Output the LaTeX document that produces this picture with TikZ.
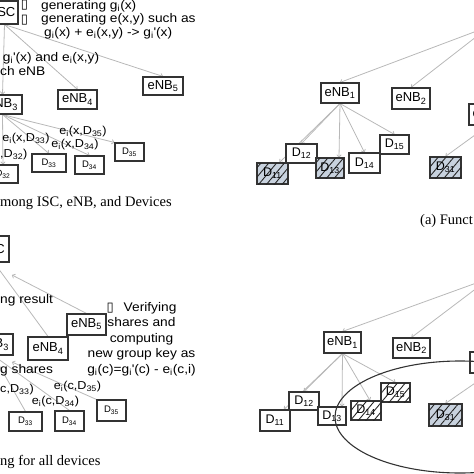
\documentclass[tikz,border=0pt]{standalone}
\usepackage{fontspec}
\setmainfont{Liberation Serif}
\newfontfamily\dsans[FakeStretch=1.1]{Liberation Sans}
\newfontfamily\nsans{Liberation Sans}
\newfontfamily\dvu{DejaVu Sans}
\usetikzlibrary{arrows.meta,patterns.meta}
\pgfdeclarelayer{bg}
\pgfsetlayers{bg,main}
\definecolor{boxc}{HTML}{333333}
\definecolor{linec}{HTML}{B8B8B8}
\definecolor{hatchbg}{HTML}{C8D2DE}
\newcommand\sbs[1]{\textsubscript{#1}}
\newcommand\gpr{\textquotesingle}
\begin{document}
\begin{tikzpicture}[x=1pt,y=-1pt,
 bx/.style={draw=boxc,line width=1.1pt,fill=white,inner sep=0pt,font=\nsans\fontsize{13}{15}\selectfont},
 dbig/.style={bx,font=\nsans\fontsize{12.5}{14}\selectfont},
 dsmall/.style={bx,font=\nsans\fontsize{9.5}{11}\selectfont},
 hatchw/.style={postaction={pattern={Lines[angle=50,distance=6pt,line width=0.9pt]},pattern color=black!85}},
 hatchb/.style={fill=hatchbg,hatchw},
 conn/.style={draw=linec,line width=0.8pt,-{To[length=3pt,width=5pt]}},
 lbl/.style={font=\dsans\fontsize{12.5}{14}\selectfont,inner sep=0pt},
 elbl/.style={font=\dsans\fontsize{11.5}{13}\selectfont,inner sep=0pt},
 captxt/.style={font=\fontsize{14.5}{17}\selectfont,inner sep=0pt},
 mk/.style={font=\dvu\fontsize{13}{13}\selectfont,inner sep=0pt}
]
\useasboundingbox (0,0) rectangle (474,474);
\clip (0,0) rectangle (474,474);

% ---------- top-left panel ----------
\node[bx,minimum width=27,minimum height=23] (iscA) at (4.5,12.5) {ISC};
\node[bx,minimum width=39,minimum height=19] (enbA3) at (2.5,104.5) {eNB\sbs{3}};
\node[bx,minimum width=39,minimum height=19] (enbA4) at (77.5,99.5) {eNB\sbs{4}};
\node[bx,minimum width=40,minimum height=18] (enbA5) at (163,86) {eNB\sbs{5}};
\node[dsmall,minimum width=30,minimum height=18] (dA32) at (3,174) {D\sbs{32}};
\node[dsmall,minimum width=34,minimum height=18] (dA33) at (49,163) {D\sbs{33}};
\node[dsmall,minimum width=29,minimum height=18] (dA34) at (89.5,165) {D\sbs{34}};
\node[dsmall,minimum width=29,minimum height=18] (dA35) at (129.5,152) {D\sbs{35}};
\node[mk] (mkA1) at (24.5,5.5) {▯};
\node[mk] (mkA2) at (24.5,20) {▯};
\node[lbl,anchor=west] (tA1) at (41,6) {generating g\sbs{i}(x)};
\node[lbl,anchor=west] (tA2) at (41,19.5) {generating e(x,y) such as};
\node[lbl,anchor=west] (tA3) at (44,33) {g\sbs{i}(x) + e\sbs{i}(x,y) -> g\sbs{i}\gpr(x)};
\node[lbl,anchor=west] (tA4) at (2.7,58) {g\sbs{i}\gpr(x) and e\sbs{i}(x,y)};
\node[lbl,anchor=west] (tA5) at (0,71.5) {ch eNB};
\node[elbl] (lA35) at (83,131.5) {e\sbs{i}(x,D\sbs{35})};
\node[elbl] (lA33) at (26,139) {e\sbs{i}(x,D\sbs{33})};
\node[elbl] (lA34) at (75,144.5) {e\sbs{i}(x,D\sbs{34})};
\node[elbl,anchor=west] (lA32) at (0,155) {,D\sbs{32})};
\node[captxt,anchor=west] (capA) at (0,203) {mong ISC, eNB, and Devices};

% ---------- top-right panel ----------
\node[bx,minimum width=27,minimum height=23] (iscB) at (490,14) {ISC};
\node[bx,minimum width=38,minimum height=20] (enbB1) at (340,93) {eNB\sbs{1}};
\node[bx,minimum width=38,minimum height=21] (enbB2) at (411,98.5) {eNB\sbs{2}};
\node[bx,minimum width=38,minimum height=21] (enbB3) at (488,114.5) {eNB\sbs{3}};
\node[dbig,minimum width=31,minimum height=19] (dB12) at (301.5,153.5) {D\sbs{12}};
\node[dbig,hatchb,minimum width=31,minimum height=21] (dB11) at (272.5,173.5) {D\sbs{11}};
\node[dbig,hatchb,minimum width=28,minimum height=20] (dB13) at (330,168) {D\sbs{13}};
\node[dbig,minimum width=31,minimum height=20] (dB14) at (364.5,163) {D\sbs{14}};
\node[dbig,minimum width=29,minimum height=19] (dB15) at (394.5,144.5) {D\sbs{15}};
\node[dbig,hatchb,minimum width=31,minimum height=21] (dB31) at (445.5,167.5) {D\sbs{31}};
\node[captxt,anchor=west] (capB) at (420,221) {(a) Funct};

% ---------- bottom-left panel ----------
\node[bx,minimum width=30,minimum height=26] (iscC) at (-6,249) {ISC};
\node[bx,minimum width=39,minimum height=21] (enbC3) at (-6.5,344.5) {eNB\sbs{3}};
\node[bx,minimum width=40,minimum height=23] (enbC4) at (48,348.5) {eNB\sbs{4}};
\node[bx,minimum width=39,minimum height=21] (enbC5) at (86.5,324.5) {eNB\sbs{5}};
\node[dsmall,minimum width=33,minimum height=19] (dC33) at (25.5,421.5) {D\sbs{33}};
\node[dsmall,minimum width=29,minimum height=20] (dC34) at (69.5,421) {D\sbs{34}};
\node[dsmall,minimum width=29,minimum height=21] (dC35) at (111.5,410.5) {D\sbs{35}};
\coordinate (tipC5) at (12,275);
\coordinate (tipC35) at (12,362);
\node[lbl,anchor=west] (tC1) at (0,300) {ng result};
\node[lbl,align=center,font=\dsans\fontsize{12.5}{15.5}\selectfont] (tC2) at (141.5,339)
  {{\dvu\fontsize{13}{13}\selectfont ▯}\hspace{10pt}Verifying\\ shares and\\ computing\\ new group key as\\ g\sbs{i}(c)=g\sbs{i}\gpr(c) - e\sbs{i}(c,i)};
\node[lbl,anchor=west] (tC3) at (0,370.5) {g shares};
\node[elbl] (lC35) at (77.5,387) {e\sbs{i}(c,D\sbs{35})};
\node[elbl] (lC34) at (55.5,401.5) {e\sbs{i}(c,D\sbs{34})};
\node[elbl,anchor=west] (lC33) at (0,390) {c,D\sbs{33})};
\node[captxt,anchor=west] (capC) at (0,462) {ng for all devices};

% ---------- bottom-right panel ----------
\node[bx,minimum width=27,minimum height=23] (iscD) at (490,266) {ISC};
\node[bx,minimum width=37,minimum height=21] (enbD1) at (342.5,342.5) {eNB\sbs{1}};
\node[bx,minimum width=37,minimum height=20] (enbD2) at (411.5,348) {eNB\sbs{2}};
\node[bx,minimum width=38,minimum height=21] (enbD3) at (489,362.5) {eNB\sbs{3}};
\node[dbig,minimum width=30,minimum height=18] (dD12) at (304,401) {D\sbs{12}};
\node[dbig,minimum width=30,minimum height=21] (dD11) at (275,420.5) {D\sbs{11}};
\node[dbig,minimum width=28,minimum height=18] (dD13) at (332,416) {D\sbs{13}};
\node[dbig,hatchw,minimum width=30,minimum height=19] (dD14) at (366,410.5) {D\sbs{14}};
\node[dbig,hatchw,minimum width=29,minimum height=19] (dD15) at (395.5,392.5) {D\sbs{15}};
\node[dbig,hatchb,minimum width=33,minimum height=22] (dD31) at (445.5,415) {D\sbs{31}};
\draw[draw=boxc,line width=1.1pt] (460,417) ellipse [x radius=125, y radius=56];

% ---------- connectors ----------
\begin{pgfonlayer}{bg}
\draw[conn] (iscA.south) -- (enbA3.north);
\draw[conn] (iscA.south) -- (enbA4.north);
\draw[conn] (iscA.south) -- (enbA5.north);
\draw[conn] (enbA3.south) -- (dA32.north);
\draw[conn] (enbA3.south) -- (dA33.north);
\draw[conn] (enbA3.south) -- (dA34.north);
\draw[conn] (enbA3.south) -- (dA35.north west);

\draw[conn] (iscB.south) -- (enbB1.north);
\draw[conn] (iscB.south) -- (enbB2.north);
\draw[conn] (iscB.south) -- (enbB3.north);
\draw[conn] (enbB1.south) -- ([xshift=7pt]dB11.north);
\draw[conn] (enbB1.south) -- (dB12.north);
\draw[conn] (enbB1.south) -- ([xshift=9pt]dB13.north);
\draw[conn] (enbB1.south) -- (dB14.north);
\draw[conn] (enbB1.south) -- (dB15.north);
\draw[conn] (enbB3.south) -- (dB31.north);

\draw[conn] (enbC5.north) -- (tipC5);
\draw[conn] (enbC4.north) -- (iscC.south);
\draw[conn] (dC35.north west) -- (tipC35);
\draw[conn] (dC34.north) -- (enbC3.south);
\draw[conn] (dC33.north) -- (enbC3.south);

\draw[conn] (iscD.south) -- (enbD1.north);
\draw[conn] (iscD.south) -- (enbD2.north);
\draw[conn] (iscD.south) -- (enbD3.north);
\draw[conn] (enbD1.south) -- ([xshift=9pt]dD11.north);
\draw[conn] (enbD1.south) -- (dD12.north);
\draw[conn] (enbD1.south) -- ([xshift=10pt]dD13.north);
\draw[conn] (enbD1.south) -- ([xshift=4pt]dD14.north);
\draw[conn] (enbD1.south) -- (dD15.north);
\draw[conn] (enbD3.south) -- (dD31.north);
\end{pgfonlayer}
\end{tikzpicture}
\end{document}
